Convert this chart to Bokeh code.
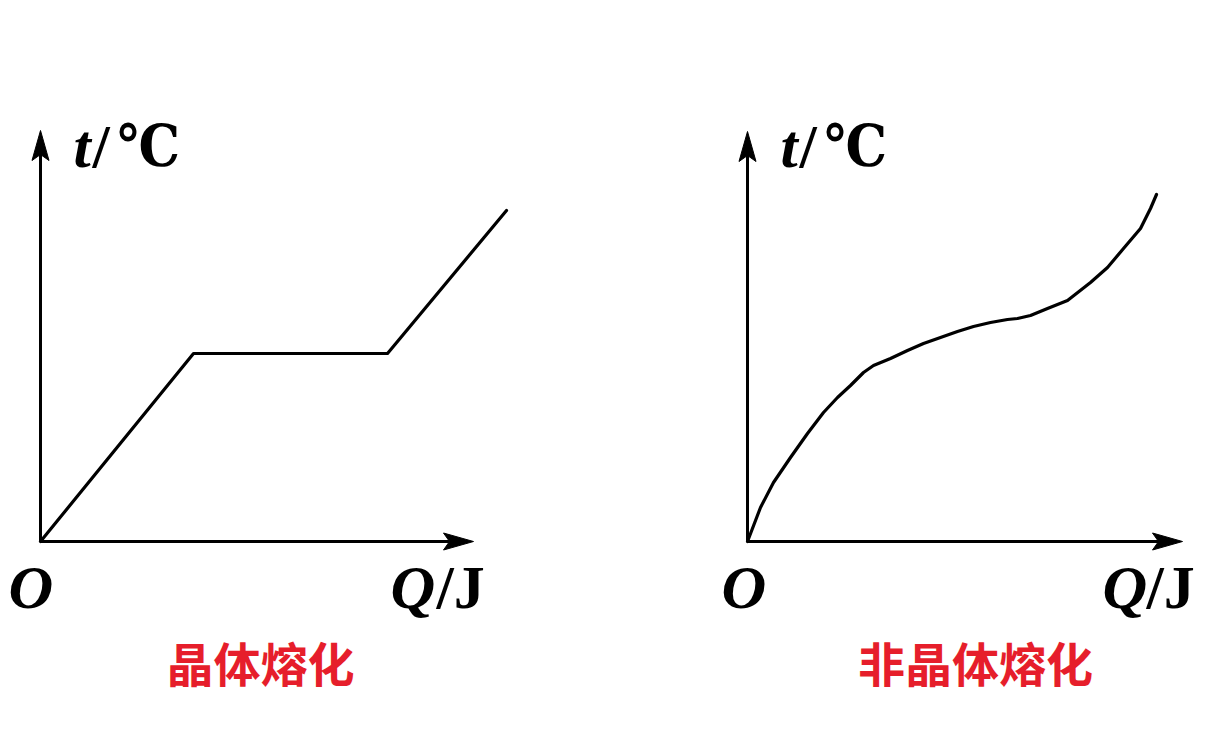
from bokeh.plotting import figure
from bokeh.models import Range1d, Label
from bokeh.layouts import row
from bokeh.embed import file_html
from bokeh.resources import INLINE

# heat Q (J) vs temperature t, arbitrary schematic units, origin at 0
crystal_q = [0, 153, 347, 466]
crystal_t = [0, 188, 188, 331]

amorphous_q = [0, 13, 26, 43, 60, 76, 90, 103, 116, 126, 143, 160, 176, 193, 210,
               226, 243, 260, 270, 283, 300, 320, 343, 360, 376, 393, 403, 409]
amorphous_t = [0, 34, 59, 84, 108, 129, 144, 156, 169, 176, 183, 191, 198, 204, 210,
               215, 219, 222, 223, 226, 233, 241, 259, 274, 293, 313, 333, 347]

t_axis_len = [411, 410]
q_axis_len = [433, 435]
captions = ["晶体熔化", "非晶体熔化"]

SERIF = "Liberation Serif"
CJK = "Noto Sans CJK SC"
RED = "#e61e2b"
W_LEFT = 596
W_RIGHT = 610
H = 730
ORIGIN_TOP = 541


def arrow_head(tip_x, tip_y, dx, dy, length=30, half=8.5, notch=6):
    # triangle with a small notch at the back, pointing along (dx, dy)
    px, py = -dy, dx
    bx, by = tip_x - dx * length, tip_y - dy * length
    nx, ny = tip_x - dx * (length - notch), tip_y - dy * (length - notch)
    xs = [tip_x, bx + px * half, nx, bx - px * half]
    ys = [tip_y, by + py * half, ny, by - py * half]
    return xs, ys


def make_panel(q, t, width, left_pad, t_len, q_len, caption, cap_x, o_x, q_x, slash_x):
    p = figure(width=width, height=H, output_backend="svg", toolbar_location=None,
               x_range=Range1d(-left_pad, width - left_pad),
               y_range=Range1d(ORIGIN_TOP - H, ORIGIN_TOP),
               min_border=0)
    p.axis.visible = False
    p.grid.visible = False
    p.outline_line_color = None
    p.background_fill_color = "white"
    p.border_fill_color = "white"

    # axes with arrows
    p.line([0, 0], [0, t_len - 20], line_width=3, line_color="black")
    p.line([0, q_len - 20], [0, 0], line_width=3, line_color="black")
    hx, hy = arrow_head(0, t_len, 0, 1)
    p.patch(hx, hy, fill_color="black", line_color="black", line_width=1)
    hx, hy = arrow_head(q_len, 0, 1, 0)
    p.patch(hx, hy, fill_color="black", line_color="black", line_width=1)

    # the curve
    p.line(q, t, line_width=3.2, line_color="black", line_join="round", line_cap="round")

    def lab(x, y, text, style="bold", font=SERIF, size="62px", color="black",
            align="left", baseline="alphabetic"):
        p.add_layout(Label(x=x, y=y, text=text, text_font=font, text_font_style=style,
                           text_font_size=size, text_color=color, text_align=align,
                           text_baseline=baseline))

    lab(33, 396, "t", style="bold italic")
    lab(52, 396, "/")
    lab(77, 396, "℃", font="DejaVu Serif Condensed", size="58px")
    lab(o_x, -45, "O", style="bold italic")
    lab(q_x, -45, "Q", style="bold italic")
    lab(slash_x, -45, "/J")
    lab(cap_x, -120, caption, font=CJK, size="47px", color=RED, align="center",
        baseline="middle")
    return p


left = make_panel(crystal_q, crystal_t, W_LEFT, 40, t_axis_len[0], q_axis_len[0],
                  captions[0], 220, -32, 350, 396)
right = make_panel(amorphous_q, amorphous_t, W_RIGHT, 747 - W_LEFT, t_axis_len[1],
                   q_axis_len[1], captions[1], 228, -26, 355, 399)

layout = row(left, right)
open("out.html", "w").write(file_html(layout, INLINE))
